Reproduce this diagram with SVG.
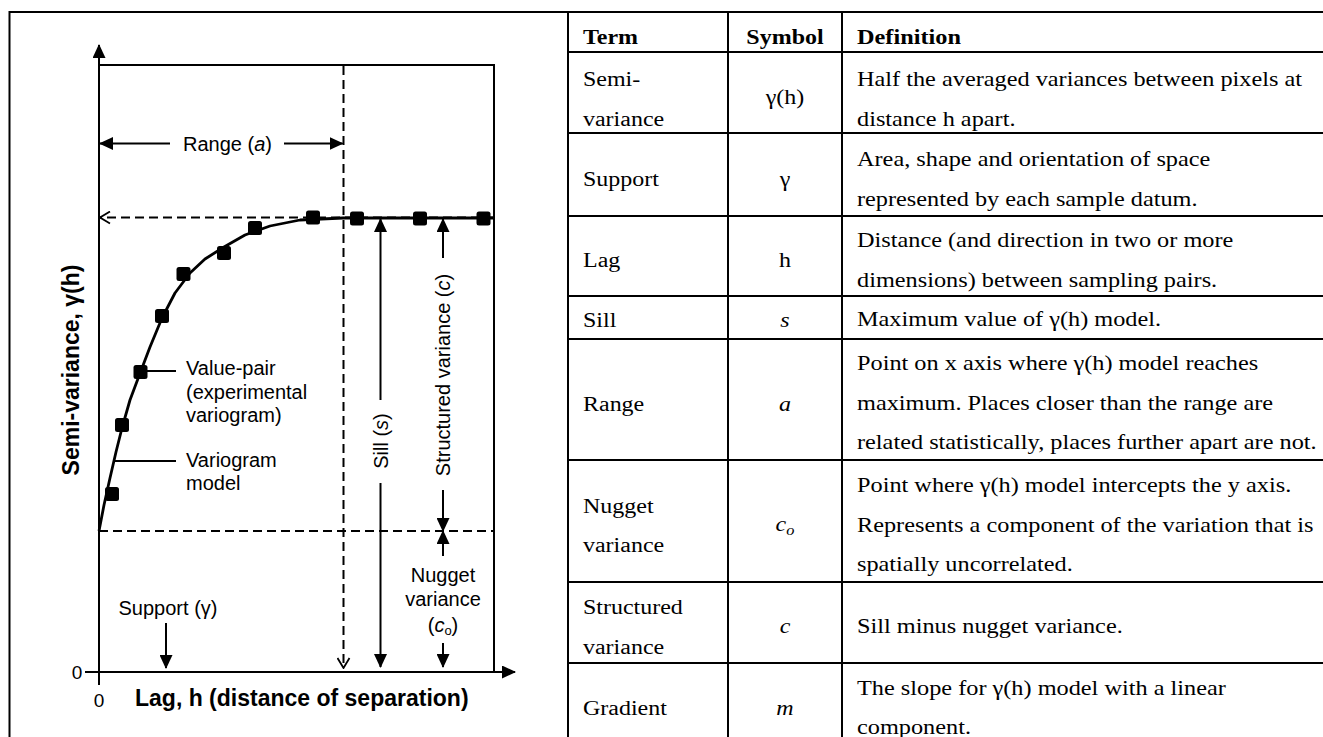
<svg xmlns="http://www.w3.org/2000/svg" width="1323" height="737" viewBox="0 0 1323 737">
<style>
.ln{stroke:#000;stroke-width:2;fill:none}
.dash{stroke:#000;stroke-width:2;stroke-dasharray:9 5;fill:none}
.arr{stroke:#000;stroke-width:2;fill:none;marker-end:url(#ah)}
.t{font-family:"Liberation Sans",Arial,sans-serif;font-size:20px;fill:#000}
.tb{font-family:"Liberation Sans",Arial,sans-serif;font-size:23px;font-weight:bold;fill:#000}
.tt{font-family:"Liberation Serif","Times New Roman",serif;font-size:20.5px;fill:#000}
.th{font-weight:bold}
.it{font-style:italic}
.grid{stroke:#000;stroke-width:2;fill:none}
</style>
<defs>
<marker id="ah" viewBox="0 0 14 13" refX="13" refY="6.5" markerWidth="14" markerHeight="13" orient="auto" markerUnits="userSpaceOnUse">
<path d="M0,0 L14,6.5 L0,13 z" fill="#000"/>
</marker>
<marker id="oh" viewBox="0 0 12 14" refX="11" refY="7" markerWidth="12" markerHeight="14" orient="auto" markerUnits="userSpaceOnUse">
<path d="M1,1 L11,7 L1,13" fill="none" stroke="#000" stroke-width="1.8"/>
</marker>
<rect id="sq" x="-7" y="-7" width="14" height="14" rx="2.5" fill="#000"/>
</defs>
<rect width="1323" height="737" fill="#fff"/>

<g id="frame">
<line class="grid" x1="9.5" y1="12" x2="1323" y2="12"/>
<line class="grid" x1="9.5" y1="11" x2="9.5" y2="737"/>
</g>

<g id="chart">
<g id="axes">
<line class="arr" x1="99" y1="685" x2="99" y2="45"/>
<line class="arr" x1="85" y1="672" x2="515" y2="672"/>
<line class="ln" x1="98" y1="65" x2="494" y2="65"/>
<line class="ln" x1="494" y1="64" x2="494" y2="672"/>
<text class="t" x="77" y="678.5" text-anchor="middle" style="font-size:19px">0</text>
<text class="t" x="99" y="706.5" text-anchor="middle" style="font-size:19px">0</text>
<text class="tb" x="135" y="706">Lag, h (distance of separation)</text>
<text class="tb" transform="translate(70.5 370) rotate(-90)" x="0" y="8" text-anchor="middle">Semi-variance, γ(h)</text>
</g>

<g id="connectors">
<line class="dash" x1="343.5" y1="66" x2="343.5" y2="668" marker-end="url(#oh)"/>
<line class="dash" x1="494" y1="217.5" x2="100" y2="217.5" marker-end="url(#oh)"/>
<line class="dash" x1="99" y1="531" x2="494" y2="531"/>
<line class="arr" x1="170" y1="143.5" x2="100" y2="143.5"/>
<line class="arr" x1="284" y1="143.5" x2="342.5" y2="143.5"/>
<line class="arr" x1="380.5" y1="400" x2="380.5" y2="219"/>
<line class="arr" x1="380.5" y1="483" x2="380.5" y2="667"/>
<line class="arr" x1="443" y1="258" x2="443" y2="219"/>
<line class="arr" x1="443" y1="490" x2="443" y2="531"/>
<line class="arr" x1="443" y1="556" x2="443" y2="531"/>
<line class="arr" x1="443" y1="643" x2="443" y2="667"/>
<line class="arr" x1="166" y1="623" x2="166" y2="668"/>
<line class="ln" x1="147" y1="371" x2="176" y2="371"/>
<line class="ln" x1="115" y1="461" x2="176" y2="461"/>
</g>

<g id="variogram-model">
<polyline points="99,531 104,505 110,478 116,452 122,428 130,400 140.5,372 150,347 162,318 175,293 190,273 205,259 224,247 245,235 270,226 300,220 343,218 494,218" fill="none" stroke="#000" stroke-width="2.8" stroke-linejoin="round"/>
</g>

<g id="value-pairs">
<use href="#sq" x="112" y="494"/>
<use href="#sq" x="122" y="425"/>
<use href="#sq" x="140.5" y="372"/>
<use href="#sq" x="162" y="316"/>
<use href="#sq" x="183.5" y="274"/>
<use href="#sq" x="224" y="253"/>
<use href="#sq" x="255" y="228"/>
<use href="#sq" x="313" y="217.5"/>
<use href="#sq" x="357" y="218.5"/>
<use href="#sq" x="420" y="218.5"/>
<use href="#sq" x="483.5" y="218.5"/>
</g>

<g id="labels">
<text class="t" x="227.5" y="150.5" text-anchor="middle">Range (<tspan class="it">a</tspan>)</text>
<text class="t" x="186" y="375">Value-pair</text>
<text class="t" x="186" y="398.5">(experimental</text>
<text class="t" x="186" y="422">variogram)</text>
<text class="t" x="186" y="467">Variogram</text>
<text class="t" x="186" y="490">model</text>
<text class="t" transform="translate(380.5 441) rotate(-90)" x="0" y="7" text-anchor="middle">Sill (<tspan class="it">s</tspan>)</text>
<text class="t" transform="translate(443 375) rotate(-90)" x="0" y="7" text-anchor="middle">Structured variance (<tspan class="it">c</tspan>)</text>
<text class="t" x="443" y="582" text-anchor="middle">Nugget</text>
<text class="t" x="443" y="606" text-anchor="middle">variance</text>
<text class="t" x="443" y="632" text-anchor="middle">(<tspan class="it">c</tspan><tspan style="font-size:13px" dy="3">o</tspan><tspan dy="-3">)</tspan></text>
<text class="t" x="168" y="615" text-anchor="middle">Support (γ)</text>
</g>
</g>

<g id="table">
<g id="table-grid">
<line class="grid" x1="568" y1="12" x2="568" y2="737"/>
<line class="grid" x1="728" y1="12" x2="728" y2="737"/>
<line class="grid" x1="842" y1="12" x2="842" y2="737"/>
<line class="grid" x1="567" y1="52" x2="1323" y2="52"/>
<line class="grid" x1="567" y1="133" x2="1323" y2="133"/>
<line class="grid" x1="567" y1="216" x2="1323" y2="216"/>
<line class="grid" x1="567" y1="296" x2="1323" y2="296"/>
<line class="grid" x1="567" y1="339" x2="1323" y2="339"/>
<line class="grid" x1="567" y1="460" x2="1323" y2="460"/>
<line class="grid" x1="567" y1="582" x2="1323" y2="582"/>
<line class="grid" x1="567" y1="663" x2="1323" y2="663"/>
</g>

<g id="col-term" transform="translate(583 0) scale(1.17 1)">
<text class="tt th" x="0" y="44">Term</text>
<text class="tt" x="0" y="86">Semi-</text>
<text class="tt" x="0" y="126">variance</text>
<text class="tt" x="0" y="186">Support</text>
<text class="tt" x="0" y="267">Lag</text>
<text class="tt" x="0" y="327">Sill</text>
<text class="tt" x="0" y="411">Range</text>
<text class="tt" x="0" y="513">Nugget</text>
<text class="tt" x="0" y="552">variance</text>
<text class="tt" x="0" y="614">Structured</text>
<text class="tt" x="0" y="654">variance</text>
<text class="tt" x="0" y="715">Gradient</text>
</g>

<g id="col-symbol" transform="translate(785 0) scale(1.17 1)">
<text class="tt th" x="0" y="44" text-anchor="middle">Symbol</text>
<text class="tt" x="0" y="104" text-anchor="middle">γ(h)</text>
<text class="tt" x="0" y="186" text-anchor="middle">γ</text>
<text class="tt" x="0" y="267" text-anchor="middle">h</text>
<text class="tt it" x="0" y="327" text-anchor="middle">s</text>
<text class="tt it" x="0" y="411" text-anchor="middle">a</text>
<text class="tt it" x="0" y="531" text-anchor="middle">c<tspan style="font-size:14px" dy="4">o</tspan></text>
<text class="tt it" x="0" y="633" text-anchor="middle">c</text>
<text class="tt it" x="0" y="715" text-anchor="middle">m</text>
</g>

<g id="col-definition" transform="translate(857 0) scale(1.185 1)">
<text class="tt th" x="0" y="44">Definition</text>
<text class="tt" x="0" y="86">Half the averaged variances between pixels at</text>
<text class="tt" x="0" y="126">distance h apart.</text>
<text class="tt" x="0" y="166">Area, shape and orientation of space</text>
<text class="tt" x="0" y="206">represented by each sample datum.</text>
<text class="tt" x="0" y="247">Distance (and direction in two or more</text>
<text class="tt" x="0" y="287">dimensions) between sampling pairs.</text>
<text class="tt" x="0" y="326">Maximum value of γ(h) model.</text>
<text class="tt" x="0" y="370">Point on x axis where γ(h) model reaches</text>
<text class="tt" x="0" y="410">maximum. Places closer than the range are</text>
<text class="tt" x="0" y="449">related statistically, places further apart are not.</text>
<text class="tt" x="0" y="492">Point where γ(h) model intercepts the y axis.</text>
<text class="tt" x="0" y="532">Represents a component of the variation that is</text>
<text class="tt" x="0" y="571">spatially uncorrelated.</text>
<text class="tt" x="0" y="633">Sill minus nugget variance.</text>
<text class="tt" x="0" y="695">The slope for γ(h) model with a linear</text>
<text class="tt" x="0" y="734">component.</text>
</g>
</g>
</svg>
